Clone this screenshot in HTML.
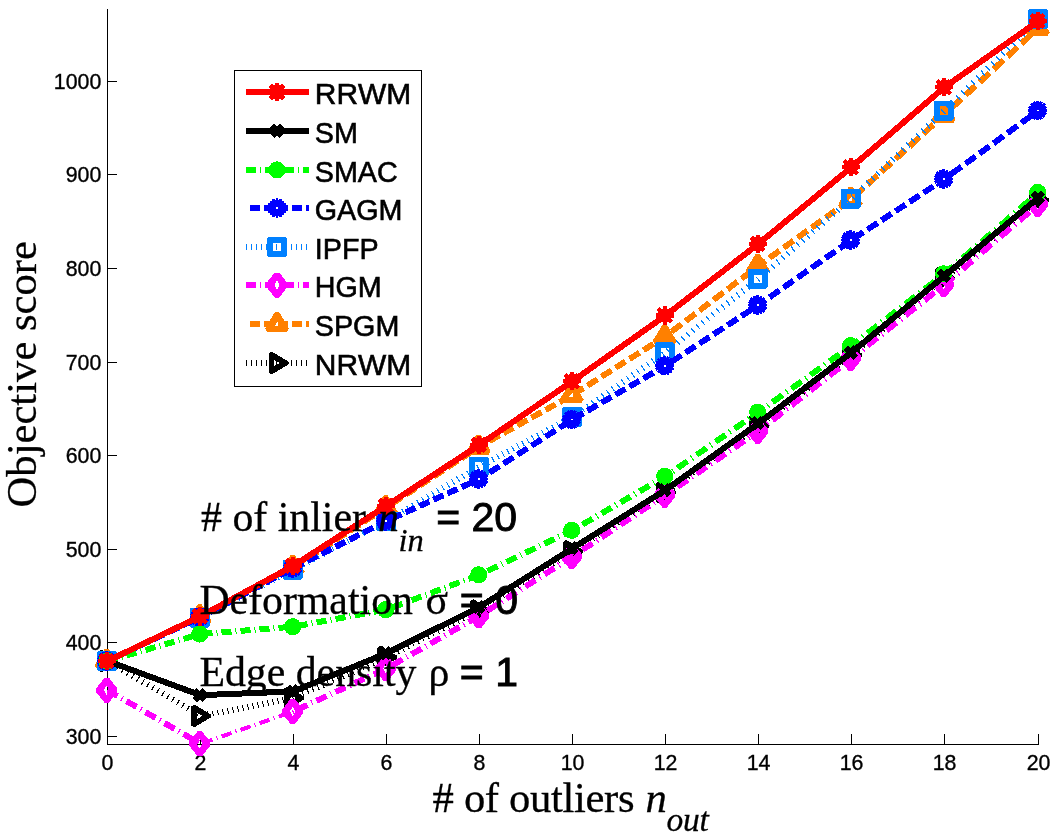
<!DOCTYPE html>
<html lang="en"><head><meta charset="utf-8"><title>Objective score vs # of outliers</title>
<style>html,body{margin:0;padding:0;background:#fff}text{font-kerning:none;font-variant-ligatures:none}body{width:1055px;height:840px;overflow:hidden}svg{display:block}</style>
</head><body>
<svg width="1055" height="840" viewBox="0 0 1055 840">
<rect width="1055" height="840" fill="#fff"/>
<g shape-rendering="crispEdges" stroke="#000" stroke-width="1" fill="none">
<path d="M107.5 9V744.5H1039"/>
<path d="M107.5 744V734M200.5 744V734M293.5 744V734M386.5 744V734M479.5 744V734M572.5 744V734M665.5 744V734M758.5 744V734M851.5 744V734M944.5 744V734M1038.5 744V734M107 736.5H117M107 642.5H117M107 549.5H117M107 455.5H117M107 362.5H117M107 268.5H117M107 174.5H117M107 81.5H117"/>
</g>
<g font-family="'Liberation Sans', sans-serif" font-size="21.33" fill="#000" stroke="#000" stroke-width="0.35">
<g text-anchor="middle">
<text x="107.5" y="769.6">0</text>
<text x="200.5" y="769.6">2</text>
<text x="293.5" y="769.6">4</text>
<text x="386.5" y="769.6">6</text>
<text x="479.5" y="769.6">8</text>
<text x="572.5" y="769.6">10</text>
<text x="665.5" y="769.6">12</text>
<text x="758.5" y="769.6">14</text>
<text x="851.5" y="769.6">16</text>
<text x="944.5" y="769.6">18</text>
<text x="1038.5" y="769.6">20</text>
</g><g text-anchor="end">
<text x="101.3" y="743.8">300</text>
<text x="101.3" y="650.23">400</text>
<text x="101.3" y="556.66">500</text>
<text x="101.3" y="463.09">600</text>
<text x="101.3" y="369.52">700</text>
<text x="101.3" y="275.95">800</text>
<text x="101.3" y="182.38">900</text>
<text x="101.3" y="88.81">1000</text>
</g></g>
<defs><clipPath id="ax"><rect x="107" y="9" width="932" height="735"/></clipPath></defs>
<g shape-rendering="crispEdges">
<g>
<g clip-path="url(#ax)"><path d="M107.5 661L200.5 715.9" stroke="#000000" stroke-width="6" fill="none" stroke-dasharray="1.16 4.64" stroke-dashoffset="0"/><path d="M200.5 715.9L293.5 698" stroke="#000000" stroke-width="6" fill="none" stroke-dasharray="1.02 4.07" stroke-dashoffset="3.06"/><path d="M293.5 698L386.5 657.2" stroke="#000000" stroke-width="6" fill="none" stroke-dasharray="1.09 4.37" stroke-dashoffset="1.09"/><path d="M386.5 657.2L479.5 610.5" stroke="#000000" stroke-width="6" fill="none" stroke-dasharray="1.12 4.48" stroke-dashoffset="4.48"/><path d="M479.5 610.5L572.5 551.3" stroke="#000000" stroke-width="6" fill="none" stroke-dasharray="1.19 4.74" stroke-dashoffset="2.37"/><path d="M572.5 551.3L665.5 492.5" stroke="#000000" stroke-width="6" fill="none" stroke-dasharray="1.18 4.73" stroke-dashoffset="0"/><path d="M665.5 492.5L758.5 425.8" stroke="#000000" stroke-width="6" fill="none" stroke-dasharray="1.23 4.92" stroke-dashoffset="3.69"/><path d="M758.5 425.8L851.5 355" stroke="#000000" stroke-width="6" fill="none" stroke-dasharray="1.26 5.03" stroke-dashoffset="1.26"/><path d="M851.5 355L944.5 278.3" stroke="#000000" stroke-width="6" fill="none" stroke-dasharray="1.3 5.18" stroke-dashoffset="5.18"/><path d="M944.5 278.3L1038.5 200" stroke="#000000" stroke-width="6" fill="none" stroke-dasharray="1.3 5.21" stroke-dashoffset="2.6"/></g>
<path fill-rule="evenodd" fill="#000000" d="M98.3 651.5L101.3 649.5L118.3 659.7V662.3L101.3 672.5L98.3 670.5Z M103.9 657.8V664.2L109.5 661Z"/>
<path fill-rule="evenodd" fill="#000000" d="M191.3 706.4L194.3 704.4L211.3 714.6V717.2L194.3 727.4L191.3 725.4Z M196.9 712.7V719.1L202.5 715.9Z"/>
<path fill-rule="evenodd" fill="#000000" d="M284.3 688.5L287.3 686.5L304.3 696.7V699.3L287.3 709.5L284.3 707.5Z M289.9 694.8V701.2L295.5 698Z"/>
<path fill-rule="evenodd" fill="#000000" d="M377.3 647.7L380.3 645.7L397.3 655.9V658.5L380.3 668.7L377.3 666.7Z M382.9 654V660.4L388.5 657.2Z"/>
<path fill-rule="evenodd" fill="#000000" d="M470.3 601L473.3 599L490.3 609.2V611.8L473.3 622L470.3 620Z M475.9 607.3V613.7L481.5 610.5Z"/>
<path fill-rule="evenodd" fill="#000000" d="M563.3 541.8L566.3 539.8L583.3 550V552.6L566.3 562.8L563.3 560.8Z M568.9 548.1V554.5L574.5 551.3Z"/>
<path fill-rule="evenodd" fill="#000000" d="M656.3 483L659.3 481L676.3 491.2V493.8L659.3 504L656.3 502Z M661.9 489.3V495.7L667.5 492.5Z"/>
<path fill-rule="evenodd" fill="#000000" d="M749.3 416.3L752.3 414.3L769.3 424.5V427.1L752.3 437.3L749.3 435.3Z M754.9 422.6V429L760.5 425.8Z"/>
<path fill-rule="evenodd" fill="#000000" d="M842.3 345.5L845.3 343.5L862.3 353.7V356.3L845.3 366.5L842.3 364.5Z M847.9 351.8V358.2L853.5 355Z"/>
<path fill-rule="evenodd" fill="#000000" d="M935.3 268.8L938.3 266.8L955.3 277V279.6L938.3 289.8L935.3 287.8Z M940.9 275.1V281.5L946.5 278.3Z"/>
<path fill-rule="evenodd" fill="#000000" d="M1029.3 190.5L1032.3 188.5L1049.3 198.7V201.3L1032.3 211.5L1029.3 209.5Z M1034.9 196.8V203.2L1040.5 200Z"/>
</g>
<g>
<g clip-path="url(#ax)"><path d="M107.5 661L200.5 616.3" stroke="#ff8000" stroke-width="6" fill="none" stroke-dasharray="11.1 4.44" stroke-dashoffset="11.1"/><path d="M200.5 616.3L293.5 567" stroke="#ff8000" stroke-width="6" fill="none" stroke-dasharray="11.32 4.53" stroke-dashoffset="5.66"/><path d="M293.5 567L386.5 507.3" stroke="#ff8000" stroke-width="6" fill="none" stroke-dasharray="11.88 4.75" stroke-dashoffset="0"/><path d="M386.5 507.3L479.5 446.5" stroke="#ff8000" stroke-width="6" fill="none" stroke-dasharray="11.95 4.78" stroke-dashoffset="10.75"/><path d="M479.5 446.5L572.5 395" stroke="#ff8000" stroke-width="6" fill="none" stroke-dasharray="11.43 4.57" stroke-dashoffset="4.57"/><path d="M572.5 395L665.5 336.3" stroke="#ff8000" stroke-width="6" fill="none" stroke-dasharray="11.83 4.73" stroke-dashoffset="15.37"/><path d="M665.5 336.3L758.5 265.8" stroke="#ff8000" stroke-width="6" fill="none" stroke-dasharray="12.55 5.02" stroke-dashoffset="10.04"/><path d="M758.5 265.8L851.5 199" stroke="#ff8000" stroke-width="6" fill="none" stroke-dasharray="12.31 4.92" stroke-dashoffset="3.69"/><path d="M851.5 199L944.5 114.5" stroke="#ff8000" stroke-width="6" fill="none" stroke-dasharray="13.51 5.4" stroke-dashoffset="16.21"/><path d="M944.5 114.5L1038.5 27.8" stroke="#ff8000" stroke-width="6" fill="none" stroke-dasharray="13.6 5.44" stroke-dashoffset="9.52"/></g>
<path fill-rule="evenodd" fill="#ff8000" d="M104.7 649H108.7L118.7 665.5L116.4 669.2H97L94.7 665.5Z M107.9 658L104.1 663H107.9Z"/>
<path fill-rule="evenodd" fill="#ff8000" d="M197.7 604.3H201.7L211.7 620.8L209.4 624.5H190L187.7 620.8Z M200.9 613.3L197.1 618.3H200.9Z"/>
<path fill-rule="evenodd" fill="#ff8000" d="M290.7 555H294.7L304.7 571.5L302.4 575.2H283L280.7 571.5Z M293.9 564L290.1 569H293.9Z"/>
<path fill-rule="evenodd" fill="#ff8000" d="M383.7 495.3H387.7L397.7 511.8L395.4 515.5H376L373.7 511.8Z M386.9 504.3L383.1 509.3H386.9Z"/>
<path fill-rule="evenodd" fill="#ff8000" d="M476.7 434.5H480.7L490.7 451L488.4 454.7H469L466.7 451Z M479.9 443.5L476.1 448.5H479.9Z"/>
<path fill-rule="evenodd" fill="#ff8000" d="M569.7 383H573.7L583.7 399.5L581.4 403.2H562L559.7 399.5Z M572.9 392L569.1 397H572.9Z"/>
<path fill-rule="evenodd" fill="#ff8000" d="M662.7 324.3H666.7L676.7 340.8L674.4 344.5H655L652.7 340.8Z M665.9 333.3L662.1 338.3H665.9Z"/>
<path fill-rule="evenodd" fill="#ff8000" d="M755.7 253.8H759.7L769.7 270.3L767.4 274H748L745.7 270.3Z M758.9 262.8L755.1 267.8H758.9Z"/>
<path fill-rule="evenodd" fill="#ff8000" d="M848.7 187H852.7L862.7 203.5L860.4 207.2H841L838.7 203.5Z M851.9 196L848.1 201H851.9Z"/>
<path fill-rule="evenodd" fill="#ff8000" d="M941.7 102.5H945.7L955.7 119L953.4 122.7H934L931.7 119Z M944.9 111.5L941.1 116.5H944.9Z"/>
<path fill-rule="evenodd" fill="#ff8000" d="M1035.7 15.8H1039.7L1049.7 32.3L1047.4 36H1028L1025.7 32.3Z M1038.9 24.8L1035.1 29.8H1038.9Z"/>
</g>
<g>
<g clip-path="url(#ax)"><path d="M107.5 690.2L200.5 743.8" stroke="#ff00ff" stroke-width="6" fill="none" stroke-dasharray="11.54 4.62 1.15 4.62" stroke-dashoffset="0"/><path d="M200.5 743.8L293.5 711.4" stroke="#ff00ff" stroke-width="4" fill="none" stroke-dasharray="10.59 4.24 1.06 4.24" stroke-dashoffset="18"/><path d="M293.5 711.4L386.5 668.5" stroke="#ff00ff" stroke-width="6" fill="none" stroke-dasharray="11.01 4.41 1.1 4.41" stroke-dashoffset="16.52"/><path d="M386.5 668.5L479.5 615.8" stroke="#ff00ff" stroke-width="6" fill="none" stroke-dasharray="11.49 4.6 1.15 4.6" stroke-dashoffset="14.94"/><path d="M479.5 615.8L572.5 556.5" stroke="#ff00ff" stroke-width="6" fill="none" stroke-dasharray="11.86 4.74 1.19 4.74" stroke-dashoffset="13.05"/><path d="M572.5 556.5L665.5 495" stroke="#ff00ff" stroke-width="6" fill="none" stroke-dasharray="11.99 4.8 1.2 4.8" stroke-dashoffset="10.79"/><path d="M665.5 495L758.5 431.2" stroke="#ff00ff" stroke-width="6" fill="none" stroke-dasharray="12.13 4.85 1.21 4.85" stroke-dashoffset="8.49"/><path d="M758.5 431.2L851.5 358.3" stroke="#ff00ff" stroke-width="6" fill="none" stroke-dasharray="12.71 5.08 1.27 5.08" stroke-dashoffset="6.35"/><path d="M851.5 358.3L944.5 284.5" stroke="#ff00ff" stroke-width="6" fill="none" stroke-dasharray="12.77 5.11 1.28 5.11" stroke-dashoffset="3.83"/><path d="M944.5 284.5L1038.5 204.3" stroke="#ff00ff" stroke-width="6" fill="none" stroke-dasharray="13.15 5.26 1.31 5.26" stroke-dashoffset="1.31"/></g>
<path fill-rule="evenodd" fill="#ff00ff" d="M104.5 677.7H108.9L117 688V692.4L108.9 702.7H104.5L96.4 692.4V688Z M106.7 685.2L104 690.2L106.7 695.2L109.4 690.2Z"/>
<path fill-rule="evenodd" fill="#ff00ff" d="M197.5 731.3H201.9L210 741.6V746L201.9 756.3H197.5L189.4 746V741.6Z M199.7 738.8L197 743.8L199.7 748.8L202.4 743.8Z"/>
<path fill-rule="evenodd" fill="#ff00ff" d="M290.5 698.9H294.9L303 709.2V713.6L294.9 723.9H290.5L282.4 713.6V709.2Z M292.7 706.4L290 711.4L292.7 716.4L295.4 711.4Z"/>
<path fill-rule="evenodd" fill="#ff00ff" d="M383.5 656H387.9L396 666.3V670.7L387.9 681H383.5L375.4 670.7V666.3Z M385.7 663.5L383 668.5L385.7 673.5L388.4 668.5Z"/>
<path fill-rule="evenodd" fill="#ff00ff" d="M476.5 603.3H480.9L489 613.6V618L480.9 628.3H476.5L468.4 618V613.6Z M478.7 610.8L476 615.8L478.7 620.8L481.4 615.8Z"/>
<path fill-rule="evenodd" fill="#ff00ff" d="M569.5 544H573.9L582 554.3V558.7L573.9 569H569.5L561.4 558.7V554.3Z M571.7 551.5L569 556.5L571.7 561.5L574.4 556.5Z"/>
<path fill-rule="evenodd" fill="#ff00ff" d="M662.5 482.5H666.9L675 492.8V497.2L666.9 507.5H662.5L654.4 497.2V492.8Z M664.7 490L662 495L664.7 500L667.4 495Z"/>
<path fill-rule="evenodd" fill="#ff00ff" d="M755.5 418.7H759.9L768 429V433.4L759.9 443.7H755.5L747.4 433.4V429Z M757.7 426.2L755 431.2L757.7 436.2L760.4 431.2Z"/>
<path fill-rule="evenodd" fill="#ff00ff" d="M848.5 345.8H852.9L861 356.1V360.5L852.9 370.8H848.5L840.4 360.5V356.1Z M850.7 353.3L848 358.3L850.7 363.3L853.4 358.3Z"/>
<path fill-rule="evenodd" fill="#ff00ff" d="M941.5 272H945.9L954 282.3V286.7L945.9 297H941.5L933.4 286.7V282.3Z M943.7 279.5L941 284.5L943.7 289.5L946.4 284.5Z"/>
<path fill-rule="evenodd" fill="#ff00ff" d="M1035.5 191.8H1039.9L1048 202.1V206.5L1039.9 216.8H1035.5L1027.4 206.5V202.1Z M1037.7 199.3L1035 204.3L1037.7 209.3L1040.4 204.3Z"/>
</g>
<g>
<g clip-path="url(#ax)"><path d="M107.5 661L200.5 617.5" stroke="#0080ff" stroke-width="6" fill="none" stroke-dasharray="1.1 4.42" stroke-dashoffset="0"/><path d="M200.5 617.5L293.5 569.5" stroke="#0080ff" stroke-width="6" fill="none" stroke-dasharray="1.13 4.5" stroke-dashoffset="3.38"/><path d="M293.5 569.5L386.5 521" stroke="#0080ff" stroke-width="6" fill="none" stroke-dasharray="1.13 4.51" stroke-dashoffset="1.13"/><path d="M386.5 521L479.5 466.5" stroke="#0080ff" stroke-width="6" fill="none" stroke-dasharray="1.16 4.64" stroke-dashoffset="4.64"/><path d="M479.5 466.5L572.5 417" stroke="#0080ff" stroke-width="6" fill="none" stroke-dasharray="1.13 4.53" stroke-dashoffset="2.27"/><path d="M572.5 417L665.5 352.4" stroke="#0080ff" stroke-width="6" fill="none" stroke-dasharray="1.22 4.87" stroke-dashoffset="0"/><path d="M665.5 352.4L758.5 278.8" stroke="#0080ff" stroke-width="6" fill="none" stroke-dasharray="1.28 5.1" stroke-dashoffset="3.83"/><path d="M758.5 278.8L851.5 198.5" stroke="#0080ff" stroke-width="6" fill="none" stroke-dasharray="1.32 5.28" stroke-dashoffset="1.32"/><path d="M851.5 198.5L944.5 110.5" stroke="#0080ff" stroke-width="6" fill="none" stroke-dasharray="1.38 5.51" stroke-dashoffset="5.51"/><path d="M944.5 110.5L1038.5 19" stroke="#0080ff" stroke-width="6" fill="none" stroke-dasharray="1.4 5.58" stroke-dashoffset="2.79"/></g>
<path fill-rule="evenodd" fill="#0080ff" d="M98.2 651H115.2L116.7 652.5V669.5L115.2 671H98.2L96.7 669.5V652.5Z M102.5 656.8V665.2H110.9V656.8Z"/>
<path fill-rule="evenodd" fill="#0080ff" d="M191.2 607.5H208.2L209.7 609V626L208.2 627.5H191.2L189.7 626V609Z M195.5 613.3V621.7H203.9V613.3Z"/>
<path fill-rule="evenodd" fill="#0080ff" d="M284.2 559.5H301.2L302.7 561V578L301.2 579.5H284.2L282.7 578V561Z M288.5 565.3V573.7H296.9V565.3Z"/>
<path fill-rule="evenodd" fill="#0080ff" d="M377.2 511H394.2L395.7 512.5V529.5L394.2 531H377.2L375.7 529.5V512.5Z M381.5 516.8V525.2H389.9V516.8Z"/>
<path fill-rule="evenodd" fill="#0080ff" d="M470.2 456.5H487.2L488.7 458V475L487.2 476.5H470.2L468.7 475V458Z M474.5 462.3V470.7H482.9V462.3Z"/>
<path fill-rule="evenodd" fill="#0080ff" d="M563.2 407H580.2L581.7 408.5V425.5L580.2 427H563.2L561.7 425.5V408.5Z M567.5 412.8V421.2H575.9V412.8Z"/>
<path fill-rule="evenodd" fill="#0080ff" d="M656.2 342.4H673.2L674.7 343.9V360.9L673.2 362.4H656.2L654.7 360.9V343.9Z M660.5 348.2V356.6H668.9V348.2Z"/>
<path fill-rule="evenodd" fill="#0080ff" d="M749.2 268.8H766.2L767.7 270.3V287.3L766.2 288.8H749.2L747.7 287.3V270.3Z M753.5 274.6V283H761.9V274.6Z"/>
<path fill-rule="evenodd" fill="#0080ff" d="M842.2 188.5H859.2L860.7 190V207L859.2 208.5H842.2L840.7 207V190Z M846.5 194.3V202.7H854.9V194.3Z"/>
<path fill-rule="evenodd" fill="#0080ff" d="M935.2 100.5H952.2L953.7 102V119L952.2 120.5H935.2L933.7 119V102Z M939.5 106.3V114.7H947.9V106.3Z"/>
<path fill-rule="evenodd" fill="#0080ff" d="M1029.2 9H1046.2L1047.7 10.5V27.5L1046.2 29H1029.2L1027.7 27.5V10.5Z M1033.5 14.8V23.2H1041.9V14.8Z"/>
</g>
<g>
<g clip-path="url(#ax)"><path d="M107.5 661L200.5 617" stroke="#0000ff" stroke-width="6" fill="none" stroke-dasharray="11.06 4.43" stroke-dashoffset="11.06"/><path d="M200.5 617L293.5 568" stroke="#0000ff" stroke-width="6" fill="none" stroke-dasharray="11.3 4.52" stroke-dashoffset="5.65"/><path d="M293.5 568L386.5 521" stroke="#0000ff" stroke-width="6" fill="none" stroke-dasharray="11.2 4.48" stroke-dashoffset="0"/><path d="M386.5 521L479.5 479" stroke="#0000ff" stroke-width="6" fill="none" stroke-dasharray="10.97 4.39" stroke-dashoffset="9.88"/><path d="M479.5 479L572.5 419.5" stroke="#0000ff" stroke-width="6" fill="none" stroke-dasharray="11.87 4.75" stroke-dashoffset="4.75"/><path d="M572.5 419.5L665.5 365.7" stroke="#0000ff" stroke-width="6" fill="none" stroke-dasharray="11.55 4.62" stroke-dashoffset="15.02"/><path d="M665.5 365.7L758.5 305" stroke="#0000ff" stroke-width="6" fill="none" stroke-dasharray="11.94 4.78" stroke-dashoffset="9.55"/><path d="M758.5 305L851.5 240" stroke="#0000ff" stroke-width="6" fill="none" stroke-dasharray="12.2 4.88" stroke-dashoffset="3.66"/><path d="M851.5 240L944.5 179" stroke="#0000ff" stroke-width="6" fill="none" stroke-dasharray="11.96 4.78" stroke-dashoffset="14.35"/><path d="M944.5 179L1038.5 110.5" stroke="#0000ff" stroke-width="6" fill="none" stroke-dasharray="12.37 4.95" stroke-dashoffset="8.66"/></g>
<circle cx="106.7" cy="661" r="4.7" stroke="#0000ff" stroke-width="7.6" fill="none"/><path d="M97 661H116.4M106.7 651.3V670.7M99.8 654.1L113.6 667.9M99.8 667.9L113.6 654.1M97.8 657.3L115.6 664.7M97.8 664.7L115.6 657.3M103 652.1L110.4 669.9M103 669.9L110.4 652.1" stroke="#0000ff" stroke-width="2.8" fill="none"/><rect x="105.8" y="660.1" width="1.8" height="1.8" fill="#fff"/>
<circle cx="199.7" cy="617" r="4.7" stroke="#0000ff" stroke-width="7.6" fill="none"/><path d="M190 617H209.4M199.7 607.3V626.7M192.8 610.1L206.6 623.9M192.8 623.9L206.6 610.1M190.8 613.3L208.6 620.7M190.8 620.7L208.6 613.3M196 608.1L203.4 625.9M196 625.9L203.4 608.1" stroke="#0000ff" stroke-width="2.8" fill="none"/><rect x="198.8" y="616.1" width="1.8" height="1.8" fill="#fff"/>
<circle cx="292.7" cy="568" r="4.7" stroke="#0000ff" stroke-width="7.6" fill="none"/><path d="M283 568H302.4M292.7 558.3V577.7M285.8 561.1L299.6 574.9M285.8 574.9L299.6 561.1M283.8 564.3L301.6 571.7M283.8 571.7L301.6 564.3M289 559.1L296.4 576.9M289 576.9L296.4 559.1" stroke="#0000ff" stroke-width="2.8" fill="none"/><rect x="291.8" y="567.1" width="1.8" height="1.8" fill="#fff"/>
<circle cx="385.7" cy="521" r="4.7" stroke="#0000ff" stroke-width="7.6" fill="none"/><path d="M376 521H395.4M385.7 511.3V530.7M378.8 514.1L392.6 527.9M378.8 527.9L392.6 514.1M376.8 517.3L394.6 524.7M376.8 524.7L394.6 517.3M382 512.1L389.4 529.9M382 529.9L389.4 512.1" stroke="#0000ff" stroke-width="2.8" fill="none"/><rect x="384.8" y="520.1" width="1.8" height="1.8" fill="#fff"/>
<circle cx="478.7" cy="479" r="4.7" stroke="#0000ff" stroke-width="7.6" fill="none"/><path d="M469 479H488.4M478.7 469.3V488.7M471.8 472.1L485.6 485.9M471.8 485.9L485.6 472.1M469.8 475.3L487.6 482.7M469.8 482.7L487.6 475.3M475 470.1L482.4 487.9M475 487.9L482.4 470.1" stroke="#0000ff" stroke-width="2.8" fill="none"/><rect x="477.8" y="478.1" width="1.8" height="1.8" fill="#fff"/>
<circle cx="571.7" cy="419.5" r="4.7" stroke="#0000ff" stroke-width="7.6" fill="none"/><path d="M562 419.5H581.4M571.7 409.8V429.2M564.8 412.6L578.6 426.4M564.8 426.4L578.6 412.6M562.8 415.8L580.6 423.2M562.8 423.2L580.6 415.8M568 410.6L575.4 428.4M568 428.4L575.4 410.6" stroke="#0000ff" stroke-width="2.8" fill="none"/><rect x="570.8" y="418.6" width="1.8" height="1.8" fill="#fff"/>
<circle cx="664.7" cy="365.7" r="4.7" stroke="#0000ff" stroke-width="7.6" fill="none"/><path d="M655 365.7H674.4M664.7 356V375.4M657.8 358.8L671.6 372.6M657.8 372.6L671.6 358.8M655.8 362L673.6 369.4M655.8 369.4L673.6 362M661 356.8L668.4 374.6M661 374.6L668.4 356.8" stroke="#0000ff" stroke-width="2.8" fill="none"/><rect x="663.8" y="364.8" width="1.8" height="1.8" fill="#fff"/>
<circle cx="757.7" cy="305" r="4.7" stroke="#0000ff" stroke-width="7.6" fill="none"/><path d="M748 305H767.4M757.7 295.3V314.7M750.8 298.1L764.6 311.9M750.8 311.9L764.6 298.1M748.8 301.3L766.6 308.7M748.8 308.7L766.6 301.3M754 296.1L761.4 313.9M754 313.9L761.4 296.1" stroke="#0000ff" stroke-width="2.8" fill="none"/><rect x="756.8" y="304.1" width="1.8" height="1.8" fill="#fff"/>
<circle cx="850.7" cy="240" r="4.7" stroke="#0000ff" stroke-width="7.6" fill="none"/><path d="M841 240H860.4M850.7 230.3V249.7M843.8 233.1L857.6 246.9M843.8 246.9L857.6 233.1M841.8 236.3L859.6 243.7M841.8 243.7L859.6 236.3M847 231.1L854.4 248.9M847 248.9L854.4 231.1" stroke="#0000ff" stroke-width="2.8" fill="none"/><rect x="849.8" y="239.1" width="1.8" height="1.8" fill="#fff"/>
<circle cx="943.7" cy="179" r="4.7" stroke="#0000ff" stroke-width="7.6" fill="none"/><path d="M934 179H953.4M943.7 169.3V188.7M936.8 172.1L950.6 185.9M936.8 185.9L950.6 172.1M934.8 175.3L952.6 182.7M934.8 182.7L952.6 175.3M940 170.1L947.4 187.9M940 187.9L947.4 170.1" stroke="#0000ff" stroke-width="2.8" fill="none"/><rect x="942.8" y="178.1" width="1.8" height="1.8" fill="#fff"/>
<circle cx="1037.7" cy="110.5" r="4.7" stroke="#0000ff" stroke-width="7.6" fill="none"/><path d="M1028 110.5H1047.4M1037.7 100.8V120.2M1030.8 103.6L1044.6 117.4M1030.8 117.4L1044.6 103.6M1028.8 106.8L1046.6 114.2M1028.8 114.2L1046.6 106.8M1034 101.6L1041.4 119.4M1034 119.4L1041.4 101.6" stroke="#0000ff" stroke-width="2.8" fill="none"/><rect x="1036.8" y="109.6" width="1.8" height="1.8" fill="#fff"/>
</g>
<g>
<g clip-path="url(#ax)"><path d="M107.5 661L200.5 634" stroke="#00ff00" stroke-width="6" fill="none" stroke-dasharray="10.41 4.17 1.04 4.17" stroke-dashoffset="0"/><path d="M200.5 634L293.5 626.7" stroke="#00ff00" stroke-width="6" fill="none" stroke-dasharray="10.03 4.01 1 4.01" stroke-dashoffset="17.05"/><path d="M293.5 626.7L386.5 609.6" stroke="#00ff00" stroke-width="6" fill="none" stroke-dasharray="10.17 4.07 1.02 4.07" stroke-dashoffset="15.25"/><path d="M386.5 609.6L479.5 574.8" stroke="#00ff00" stroke-width="6" fill="none" stroke-dasharray="10.68 4.27 1.07 4.27" stroke-dashoffset="13.88"/><path d="M479.5 574.8L572.5 530.3" stroke="#00ff00" stroke-width="6" fill="none" stroke-dasharray="11.09 4.43 1.11 4.43" stroke-dashoffset="12.19"/><path d="M572.5 530.3L665.5 476.3" stroke="#00ff00" stroke-width="6" fill="none" stroke-dasharray="11.56 4.63 1.16 4.63" stroke-dashoffset="10.41"/><path d="M665.5 476.3L758.5 412.2" stroke="#00ff00" stroke-width="6" fill="none" stroke-dasharray="12.15 4.86 1.21 4.86" stroke-dashoffset="8.5"/><path d="M758.5 412.2L851.5 345.6" stroke="#00ff00" stroke-width="6" fill="none" stroke-dasharray="12.3 4.92 1.23 4.92" stroke-dashoffset="6.15"/><path d="M851.5 345.6L944.5 273.8" stroke="#00ff00" stroke-width="6" fill="none" stroke-dasharray="12.63 5.05 1.26 5.05" stroke-dashoffset="3.79"/><path d="M944.5 273.8L1038.5 192.5" stroke="#00ff00" stroke-width="6" fill="none" stroke-dasharray="13.22 5.29 1.32 5.29" stroke-dashoffset="1.32"/></g>
<circle cx="106.7" cy="661" r="8.6" fill="#00ff00"/>
<circle cx="199.7" cy="634" r="8.6" fill="#00ff00"/>
<circle cx="292.7" cy="626.7" r="8.6" fill="#00ff00"/>
<circle cx="385.7" cy="609.6" r="8.6" fill="#00ff00"/>
<circle cx="478.7" cy="574.8" r="8.6" fill="#00ff00"/>
<circle cx="571.7" cy="530.3" r="8.6" fill="#00ff00"/>
<circle cx="664.7" cy="476.3" r="8.6" fill="#00ff00"/>
<circle cx="757.7" cy="412.2" r="8.6" fill="#00ff00"/>
<circle cx="850.7" cy="345.6" r="8.6" fill="#00ff00"/>
<circle cx="943.7" cy="273.8" r="8.6" fill="#00ff00"/>
<circle cx="1037.7" cy="192.5" r="8.6" fill="#00ff00"/>
</g>
<g>
<g clip-path="url(#ax)"><path d="M107.5 661L200.5 695.2L293.5 691.4L386.5 653.2L479.5 607L572.5 548.3L665.5 490L758.5 423.3L851.5 352.5L944.5 275.9L1038.5 197.6" stroke="#000000" stroke-width="6" fill="none" stroke-linejoin="round"/></g>
<path d="M101.7 656L111.7 666M101.7 666L111.7 656" stroke="#000000" stroke-width="6" fill="none"/>
<path d="M194.7 690.2L204.7 700.2M194.7 700.2L204.7 690.2" stroke="#000000" stroke-width="6" fill="none"/>
<path d="M287.7 686.4L297.7 696.4M287.7 696.4L297.7 686.4" stroke="#000000" stroke-width="6" fill="none"/>
<path d="M380.7 648.2L390.7 658.2M380.7 658.2L390.7 648.2" stroke="#000000" stroke-width="6" fill="none"/>
<path d="M473.7 602L483.7 612M473.7 612L483.7 602" stroke="#000000" stroke-width="6" fill="none"/>
<path d="M566.7 543.3L576.7 553.3M566.7 553.3L576.7 543.3" stroke="#000000" stroke-width="6" fill="none"/>
<path d="M659.7 485L669.7 495M659.7 495L669.7 485" stroke="#000000" stroke-width="6" fill="none"/>
<path d="M752.7 418.3L762.7 428.3M752.7 428.3L762.7 418.3" stroke="#000000" stroke-width="6" fill="none"/>
<path d="M845.7 347.5L855.7 357.5M845.7 357.5L855.7 347.5" stroke="#000000" stroke-width="6" fill="none"/>
<path d="M938.7 270.9L948.7 280.9M938.7 280.9L948.7 270.9" stroke="#000000" stroke-width="6" fill="none"/>
<path d="M1032.7 192.6L1042.7 202.6M1032.7 202.6L1042.7 192.6" stroke="#000000" stroke-width="6" fill="none"/>
</g>
<g>
<g clip-path="url(#ax)"><path d="M107.5 661L200.5 616.3L293.5 565.7L386.5 505.7L479.5 444.8L572.5 381.2L665.5 315.5L758.5 243.8L851.5 167.2L944.5 87.2L1038.5 21" stroke="#ff0000" stroke-width="6" fill="none" stroke-linejoin="round"/></g>
<circle cx="106.7" cy="661" r="7.4" fill="#ff0000"/><path d="M97.5 661H115.9M106.7 651.8V670.2M100.1 654.4L113.3 667.6M100.1 667.6L113.3 654.4" stroke="#ff0000" stroke-width="4.4" fill="none"/>
<circle cx="199.7" cy="616.3" r="7.4" fill="#ff0000"/><path d="M190.5 616.3H208.9M199.7 607.1V625.5M193.1 609.7L206.3 622.9M193.1 622.9L206.3 609.7" stroke="#ff0000" stroke-width="4.4" fill="none"/>
<circle cx="292.7" cy="565.7" r="7.4" fill="#ff0000"/><path d="M283.5 565.7H301.9M292.7 556.5V574.9M286.1 559.1L299.3 572.3M286.1 572.3L299.3 559.1" stroke="#ff0000" stroke-width="4.4" fill="none"/>
<circle cx="385.7" cy="505.7" r="7.4" fill="#ff0000"/><path d="M376.5 505.7H394.9M385.7 496.5V514.9M379.1 499.1L392.3 512.3M379.1 512.3L392.3 499.1" stroke="#ff0000" stroke-width="4.4" fill="none"/>
<circle cx="478.7" cy="444.8" r="7.4" fill="#ff0000"/><path d="M469.5 444.8H487.9M478.7 435.6V454M472.1 438.2L485.3 451.4M472.1 451.4L485.3 438.2" stroke="#ff0000" stroke-width="4.4" fill="none"/>
<circle cx="571.7" cy="381.2" r="7.4" fill="#ff0000"/><path d="M562.5 381.2H580.9M571.7 372V390.4M565.1 374.6L578.3 387.8M565.1 387.8L578.3 374.6" stroke="#ff0000" stroke-width="4.4" fill="none"/>
<circle cx="664.7" cy="315.5" r="7.4" fill="#ff0000"/><path d="M655.5 315.5H673.9M664.7 306.3V324.7M658.1 308.9L671.3 322.1M658.1 322.1L671.3 308.9" stroke="#ff0000" stroke-width="4.4" fill="none"/>
<circle cx="757.7" cy="243.8" r="7.4" fill="#ff0000"/><path d="M748.5 243.8H766.9M757.7 234.6V253M751.1 237.2L764.3 250.4M751.1 250.4L764.3 237.2" stroke="#ff0000" stroke-width="4.4" fill="none"/>
<circle cx="850.7" cy="167.2" r="7.4" fill="#ff0000"/><path d="M841.5 167.2H859.9M850.7 158V176.4M844.1 160.6L857.3 173.8M844.1 173.8L857.3 160.6" stroke="#ff0000" stroke-width="4.4" fill="none"/>
<circle cx="943.7" cy="87.2" r="7.4" fill="#ff0000"/><path d="M934.5 87.2H952.9M943.7 78V96.4M937.1 80.6L950.3 93.8M937.1 93.8L950.3 80.6" stroke="#ff0000" stroke-width="4.4" fill="none"/>
<circle cx="1037.7" cy="21" r="7.4" fill="#ff0000"/><path d="M1028.5 21H1046.9M1037.7 11.8V30.2M1031.1 14.4L1044.3 27.6M1031.1 27.6L1044.3 14.4" stroke="#ff0000" stroke-width="4.4" fill="none"/>
</g>
</g>
<g shape-rendering="crispEdges">
<rect x="234.5" y="70.5" width="187" height="316" fill="#fff" stroke="#000" stroke-width="1"/>
<path d="M246 92L309 92" stroke="#ff0000" stroke-width="6" fill="none" stroke-linejoin="round"/>
<circle cx="277" cy="92" r="7.4" fill="#ff0000"/><path d="M267.8 92H286.2M277 82.8V101.2M270.4 85.4L283.6 98.6M270.4 98.6L283.6 85.4" stroke="#ff0000" stroke-width="4.4" fill="none"/>
<path d="M246 131L309 131" stroke="#000000" stroke-width="6" fill="none" stroke-linejoin="round"/>
<path d="M272 126L282 136M272 136L282 126" stroke="#000000" stroke-width="6" fill="none"/>
<path d="M246 170L309 170" stroke="#00ff00" stroke-width="6" fill="none" stroke-dasharray="10 4 1 4" stroke-dashoffset="0"/>
<circle cx="277" cy="170" r="8.6" fill="#00ff00"/>
<path d="M246 208L309 208" stroke="#0000ff" stroke-width="6" fill="none" stroke-dasharray="10 4" stroke-dashoffset="10"/>
<circle cx="277" cy="208" r="4.7" stroke="#0000ff" stroke-width="7.6" fill="none"/><path d="M267.3 208H286.7M277 198.3V217.7M270.1 201.1L283.9 214.9M270.1 214.9L283.9 201.1M268.1 204.3L285.9 211.7M268.1 211.7L285.9 204.3M273.3 199.1L280.7 216.9M273.3 216.9L280.7 199.1" stroke="#0000ff" stroke-width="2.8" fill="none"/><rect x="276.1" y="207.1" width="1.8" height="1.8" fill="#fff"/>
<path d="M246 247L309 247" stroke="#0080ff" stroke-width="6" fill="none" stroke-dasharray="1 4" stroke-dashoffset="0"/>
<path fill-rule="evenodd" fill="#0080ff" d="M268.5 237H285.5L287 238.5V255.5L285.5 257H268.5L267 255.5V238.5Z M272.8 242.8V251.2H281.2V242.8Z"/>
<path d="M246 285L309 285" stroke="#ff00ff" stroke-width="6" fill="none" stroke-dasharray="10 4 1 4" stroke-dashoffset="0"/>
<path fill-rule="evenodd" fill="#ff00ff" d="M274.8 272.5H279.2L287.3 282.8V287.2L279.2 297.5H274.8L266.7 287.2V282.8Z M277 280L274.3 285L277 290L279.7 285Z"/>
<path d="M246 324L309 324" stroke="#ff8000" stroke-width="6" fill="none" stroke-dasharray="10 4" stroke-dashoffset="10"/>
<path fill-rule="evenodd" fill="#ff8000" d="M275 312H279L289 328.5L286.7 332.2H267.3L265 328.5Z M278.2 321L274.4 326H278.2Z"/>
<path d="M246 363L309 363" stroke="#000000" stroke-width="6" fill="none" stroke-dasharray="1 4" stroke-dashoffset="0"/>
<path fill-rule="evenodd" fill="#000000" d="M268.6 353.5L271.6 351.5L288.6 361.7V364.3L271.6 374.5L268.6 372.5Z M274.2 359.8V366.2L279.8 363Z"/>
</g>
<g font-family="'Liberation Sans', sans-serif" font-size="28.7" fill="#000" stroke="#000" stroke-width="0.6">
<text x="314.8" y="103.9" textLength="96.4" lengthAdjust="spacingAndGlyphs">RRWM</text>
<text x="314.8" y="142.9">SM</text>
<text x="314.8" y="181.9">SMAC</text>
<text x="314.8" y="219.9">GAGM</text>
<text x="314.8" y="258.9">IPFP</text>
<text x="314.8" y="296.9">HGM</text>
<text x="314.8" y="335.9">SPGM</text>
<text x="314.8" y="374.9" textLength="96.4" lengthAdjust="spacingAndGlyphs">NRWM</text>
</g>
<g fill="#000" font-size="42.67" stroke="#000" stroke-width="0.3">
<text font-family="'Liberation Serif', serif" transform="translate(36 507.5) rotate(-90)" x="0" y="0">Objective score</text>
<text font-family="'Liberation Serif', serif" x="432.6" y="812" letter-spacing="-0.35"># of outliers <tspan font-style="italic" x="645.6">n</tspan><tspan font-style="italic" font-size="33.5" x="666.6" y="831.3">out</tspan></text>
</g><g fill="#000" font-size="41.8" stroke="#000" stroke-width="0.3">
<text font-family="'Liberation Serif', serif" x="201.1" y="530.6"># of inlier <tspan font-style="italic" x="378">n</tspan><tspan font-style="italic" font-size="32.5" x="398.6" y="550.6">in</tspan><tspan font-family="'Liberation Sans', sans-serif" font-size="41" stroke-width="0.9" x="436.2" y="530.5">= 20</tspan></text>
<text font-family="'Liberation Serif', serif" x="199.4" y="614.2">Deformation <tspan x="425.6">σ</tspan><tspan font-family="'Liberation Sans', sans-serif" font-size="41" stroke-width="0.9" x="459.8" y="614.1">= 0</tspan></text>
<text font-family="'Liberation Serif', serif" x="199.4" y="686">Edge density <tspan x="428.4">ρ</tspan><tspan font-family="'Liberation Sans', sans-serif" font-size="41" stroke-width="0.9" x="459.8" y="685.9">= 1</tspan></text>
</g>
</svg>
</body></html>
